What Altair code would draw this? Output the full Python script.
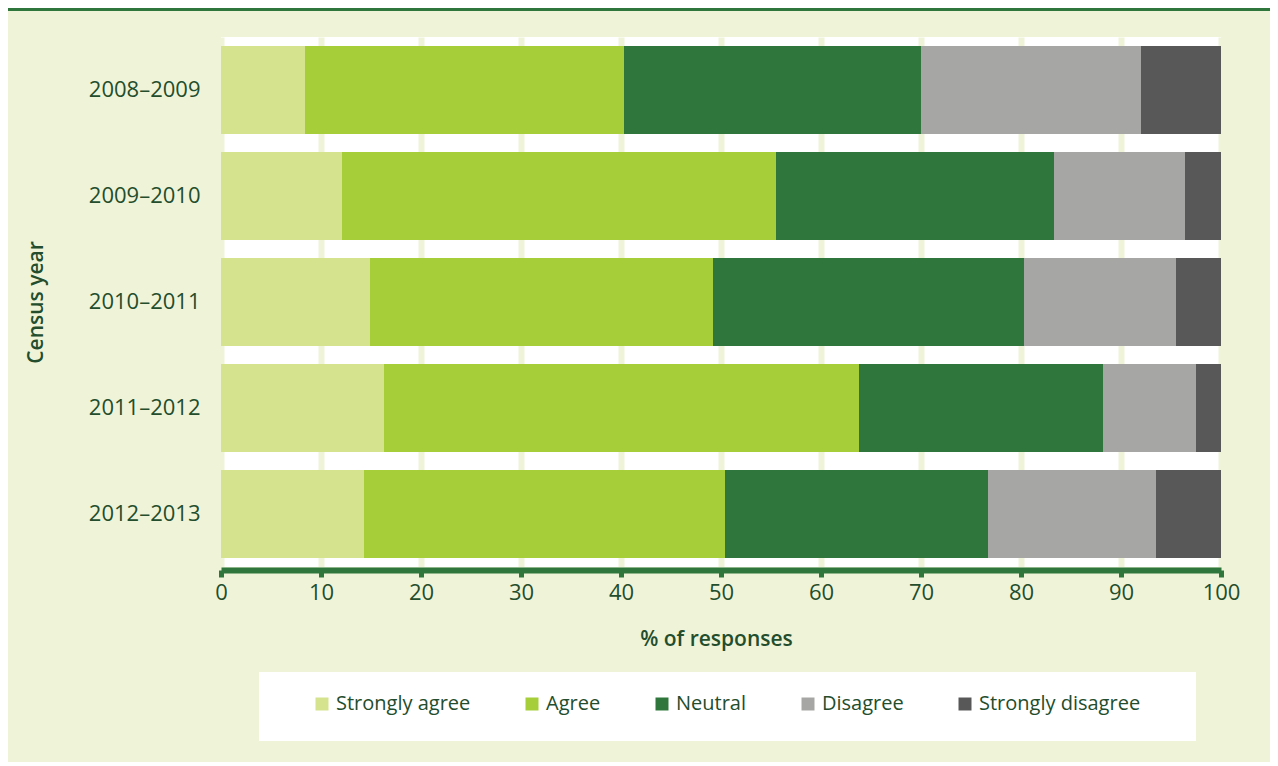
import altair as alt
import pandas as pd

years = ["2008–2009", "2009–2010", "2010–2011", "2011–2012", "2012–2013"]
categories = ["Strongly agree", "Agree", "Neutral", "Disagree", "Strongly disagree"]
strongly_agree = [8.4, 12.1, 14.9, 16.3, 14.3]
agree = [31.9, 43.4, 34.3, 47.5, 36.1]
neutral = [29.7, 27.8, 31.1, 24.4, 26.3]
disagree = [22.0, 13.1, 15.2, 9.3, 16.8]
strongly_disagree = [8.0, 3.6, 4.5, 2.5, 6.5]
x_ticks = [0, 10, 20, 30, 40, 50, 60, 70, 80, 90, 100]

colors = ["#d5e38e", "#a6ce39", "#2e763b", "#a6a6a5", "#585858"]
BG = "#eff4d9"
DARK = "#2e763b"
TEXT = "#234d2c"
FONT = "Open Sans"

series = [strongly_agree, agree, neutral, disagree, strongly_disagree]
rows = []
for ci, (cat, vals) in enumerate(zip(categories, series)):
    for y, v in zip(years, vals):
        rows.append({"year": y, "category": cat, "value": v, "order": ci})
df = pd.DataFrame(rows)

bars = alt.Chart(df).mark_bar().encode(
    x=alt.X("value:Q", stack="zero",
            scale=alt.Scale(domain=[0, 100], nice=False, zero=True),
            axis=alt.Axis(values=x_ticks, grid=True, gridColor=BG, gridWidth=6,
                          domainColor=DARK, domainWidth=6, offset=3,
                          tickColor=DARK, tickWidth=5, tickSize=7,
                          labelFont=FONT, labelFontSize=22, labelColor=TEXT,
                          labelPadding=5, labelFlush=False,
                          title="% of responses", titleFont=FONT, titleFontSize=21,
                          titleFontWeight=600, titleColor=TEXT,
                          titleX=495, titleY=69, titleBaseline="middle")),
    y=alt.Y("year:N", sort=years,
            scale=alt.Scale(paddingInner=0.17, paddingOuter=0.085),
            axis=alt.Axis(domain=False, ticks=False, grid=False, labelPadding=21,
                          labelFont=FONT, labelFontSize=22, labelColor=TEXT,
                          title="Census year", titleFont=FONT, titleFontSize=21,
                          titleFontWeight=600, titleColor=TEXT,
                          titleX=-185, titleY=265, titleAngle=-90,
                          titleAlign="center", titleBaseline="middle")),
    color=alt.Color("category:N",
                    scale=alt.Scale(domain=categories, range=colors),
                    legend=alt.Legend(orient="none", legendX=91, legendY=657,
                                      direction="horizontal", title=None,
                                      symbolType="square", symbolSize=169,
                                      symbolStrokeWidth=0, symbolOpacity=1,
                                      labelFont=FONT, labelFontSize=20,
                                      labelColor=TEXT, labelOffset=4,
                                      labelLimit=400,
                                      columnPadding=51, padding=0)),
    order=alt.Order("order:Q"),
)

deco = pd.DataFrame({"d": [0]})
box = alt.Chart(deco).mark_rect(color="white").encode(
    x=alt.value(38), x2=alt.value(975), y=alt.value(635), y2=alt.value(704)
)
topline = alt.Chart(deco).mark_rule(color=DARK, strokeWidth=3).encode(
    x=alt.value(-213), x2=alt.value(1049), y=alt.value(-27.5)
)

chart = alt.layer(bars, box, topline).properties(
    width=1000, height=530,
    padding={"left": 213, "top": 29, "right": 49, "bottom": 195},
    autosize=alt.AutoSizeParams(type="none"),
    background=BG,
).configure_view(fill="white", stroke=None)

chart.save("out.html", embed_options={"renderer": "svg", "actions": False})
